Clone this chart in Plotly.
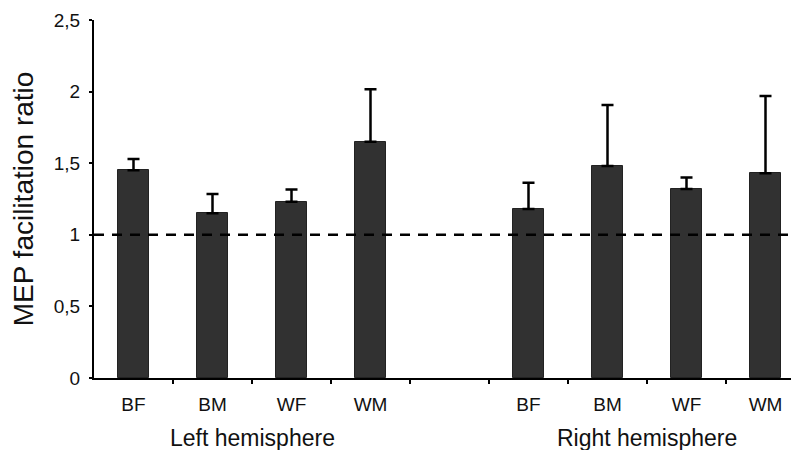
import plotly.graph_objects as go

# Data
categories = ["BF", "BM", "WF", "WM"]
groups = ["Left hemisphere", "Right hemisphere"]
left_means = [1.45, 1.15, 1.23, 1.65]
left_err_top = [1.53, 1.285, 1.317, 2.016]
right_means = [1.18, 1.48, 1.32, 1.43]
right_err_top = [1.364, 1.906, 1.401, 1.969]
y_ticks = [0, 0.5, 1, 1.5, 2, 2.5]
y_tick_labels = ["0", "0,5", "1", "1,5", "2", "2,5"]
reference_level = 1

n = len(categories)
left_x = list(range(n))
right_x = [n + 1 + i for i in range(n)]
xs = left_x + right_x
means = left_means + right_means
err_plus = [t - m for t, m in zip(left_err_top + right_err_top, means)]

# the page body adds an 8px margin; size the figure so it fits the window
W, H, PAGE_MARGIN = 799, 450, 8

fig = go.Figure()
fig.add_trace(go.Bar(
    x=xs, y=means, width=0.39,
    marker=dict(color="#313131", line=dict(color="#222222", width=1)),
    error_y=dict(type="data", symmetric=False, array=err_plus,
                 arrayminus=[0] * len(err_plus),
                 color="black", thickness=2.5, width=6),
    showlegend=False,
))

fig.add_shape(type="line", xref="paper", x0=0, x1=1, yref="y",
              y0=reference_level, y1=reference_level,
              line=dict(color="black", width=2.5, dash="10px,8px"),
              layer="above")

boundaries = [i + 0.5 for i in range(2 * n + 1)]

fig.update_layout(
    width=W - PAGE_MARGIN, height=H - PAGE_MARGIN,
    margin=dict(l=94 - PAGE_MARGIN, r=0, t=20 - PAGE_MARGIN, b=72),
    plot_bgcolor="white", paper_bgcolor="white",
    font=dict(family="Liberation Sans, Arial, sans-serif", color="#111111"),
    bargap=0,
    xaxis=dict(
        range=[-0.5, -0.5 + 705 / 79],
        tickmode="array", tickvals=xs, ticktext=categories + categories,
        ticks="", ticklen=0, tickfont=dict(size=19),
        ticklabelstandoff=8,
        showline=True, linecolor="black", linewidth=2,
        showgrid=False, zeroline=False,
        minor=dict(tickvals=boundaries, ticks="outside", ticklen=4,
                   tickcolor="black", tickwidth=1.5, showgrid=False),
    ),
    yaxis=dict(
        range=[0, 2.5],
        tickmode="array", tickvals=y_ticks, ticktext=y_tick_labels,
        ticks="outside", ticklen=3, tickwidth=1.5, tickcolor="black",
        tickfont=dict(size=19), ticklabelstandoff=5,
        showline=True, linecolor="black", linewidth=2,
        showgrid=False, zeroline=False,
        title=dict(text="MEP facilitation ratio", font=dict(size=28), standoff=19),
    ),
)

group_centers = [sum(left_x) / n, sum(right_x) / n]
for g, cx in zip(groups, group_centers):
    fig.add_annotation(x=cx, xref="x", y=0, yref="paper", yanchor="top",
                       yshift=-45, text=g, showarrow=False,
                       font=dict(size=23))

fig.write_html("out.html")
